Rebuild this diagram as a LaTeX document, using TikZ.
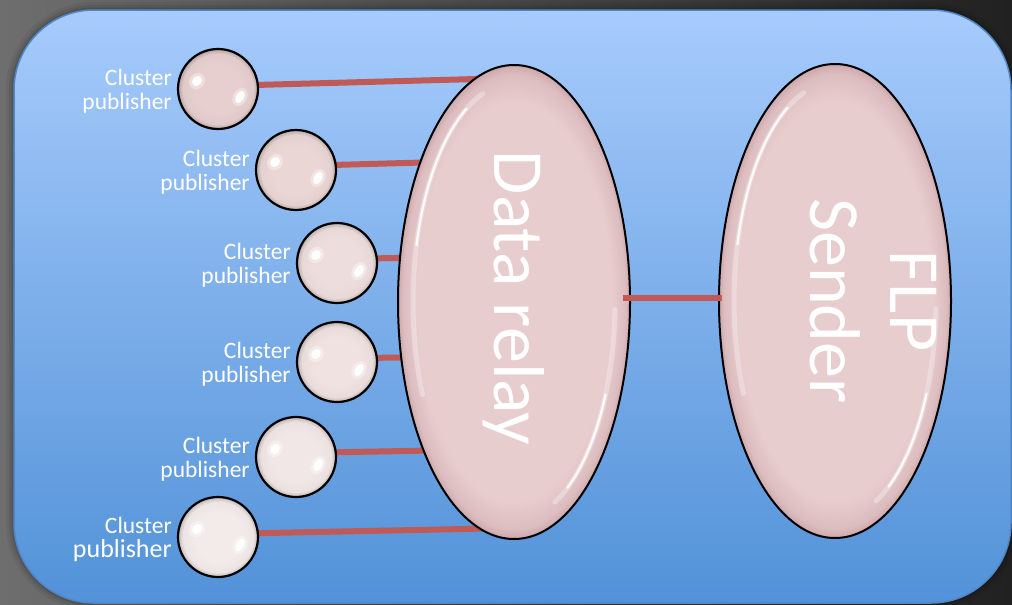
\documentclass[tikz,border=0pt]{standalone}
\usepackage{fontspec}
\setmainfont{Carlito}
\usetikzlibrary{shapes.geometric,calc}

\pgfdeclarelayer{panel}
\pgfdeclarelayer{wires}
\pgfsetlayers{panel,wires,main}

% palette
\definecolor{bgL}{RGB}{110,110,110}
\definecolor{bgR}{RGB}{33,33,33}
\definecolor{panelTop}{RGB}{167,203,252}
\definecolor{panelBot}{RGB}{82,146,216}
\definecolor{panelEdge}{RGB}{80,135,200}
\definecolor{wirecol}{RGB}{192,90,86}
\definecolor{podFill}{RGB}{232,205,207}
\definecolor{podRim}{RGB}{205,168,172}
\definecolor{pubA}{RGB}{231,207,207}
\definecolor{pubB}{RGB}{234,214,213}
\definecolor{pubC}{RGB}{237,222,221}
\definecolor{pubD}{RGB}{239,226,225}
\definecolor{pubE}{RGB}{241,231,230}
\definecolor{pubF}{RGB}{243,235,234}

% glossy bubble: flat body with a darker rim
\colorlet{bubA}{white}\colorlet{bubB}{gray}
\pgfdeclareradialshading[bubA,bubB]{bubble}{\pgfpointorigin}{%
  color(0bp)=(bubA); color(15bp)=(bubA); color(22bp)=(bubA!88!bubB);
  color(25bp)=(bubB); color(50bp)=(bubB)}
\pgfdeclareradialshading{pod}{\pgfpointorigin}{%
  color(0bp)=(podFill); color(21bp)=(podFill); color(24bp)=(podFill!55!podRim);
  color(25bp)=(podRim); color(50bp)=(podRim)}

\tikzset{
  pub/.style={circle, draw=black, line width=2.2pt, minimum size=80pt, inner sep=0pt,
    /utils/exec={\colorlet{bubA}{#1}\colorlet{bubB}{#1!78!black}}, shading=bubble},
  pod/.style={ellipse, draw=black, line width=2pt, minimum width=232pt,
    minimum height=474pt, inner sep=0pt, shading=pod},
  wire/.style={draw=wirecol, line width=6pt},
  lbl/.style={text=white, align=right, anchor=east, inner sep=0pt,
    font=\fontsize{23.5}{24}\selectfont},
  big/.style={text=white, rotate=-90, inner sep=0pt, align=center,
    font=\fontsize{72}{80}\selectfont},
  gloss/.style={white, line cap=round},
}

\begin{document}
\begin{tikzpicture}[x=1pt, y=-1pt]
\useasboundingbox (0,0) rectangle (1012,605);

% backdrop and panel
\begin{pgfonlayer}{panel}
  \fill[left color=bgL, right color=bgR] (0,0) rectangle (1012,605);
  \foreach \w/\o in {16/0.05, 10/0.07, 5/0.1}
    \draw[black, opacity=\o, line width=\w pt, rounded corners=80pt] (14,10) rectangle (1011,603);
  \draw[panelEdge, line width=1.5pt, rounded corners=80pt, top color=panelTop, bottom color=panelBot]
    (14,10) rectangle (1011,603);
\end{pgfonlayer}

% publishers
\node[pub=pubA] (p1) at (218,89) {};
\node[pub=pubB] (p2) at (296,170) {};
\node[pub=pubC] (p3) at (337,263) {};
\node[pub=pubD] (p4) at (337,362) {};
\node[pub=pubE] (p5) at (296,457) {};
\node[pub=pubF] (p6) at (218,537) {};

% relay and sender
\node[pod] (relay) at (514,302) {};
\node[pod] (flp) at (835,301) {};

% links from publishers into the relay
\begin{pgfonlayer}{wires}
  \draw[wire] ($(p1.center)+(0,-3)$) -- ($(relay.center)+(0,-224)$);
  \draw[wire] ($(p2.center)+(0,-4)$) -- ($(relay.center)+(0,-142)$);
  \draw[wire] ($(p3.center)+(0,-4)$) -- ($(relay.center)+(0,-46)$);
  \draw[wire] ($(p4.center)+(0,-4)$) -- ($(relay.center)+(0,55)$);
  \draw[wire] ($(p5.center)+(0,-4)$) -- ($(relay.center)+(0,147)$);
  \draw[wire] ($(p6.center)+(0,-3)$) -- ($(relay.center)+(0,226)$);
\end{pgfonlayer}

% relay to sender
\draw[wire] ($(relay.east)+(-8,-4)$) -- ($(flp.west)+(4,-3)$);

% glossy highlights on the ellipses
\foreach \n in {relay,flp}{
  \draw[gloss, opacity=0.3, line width=5pt]
    ($(\n.center)+({101*cos(-108)},{219*sin(-108)})$) arc[start angle=-108, end angle=-205, x radius=101, y radius=219];
  \draw[gloss, opacity=0.9, line width=2.2pt]
    ($(\n.center)+({101*cos(-118)},{219*sin(-118)})$) arc[start angle=-118, end angle=-165, x radius=101, y radius=219];
  \draw[gloss, opacity=0.3, line width=5pt]
    ($(\n.center)+({101*cos(2)},{219*sin(2)})$) arc[start angle=2, end angle=66, x radius=101, y radius=219];
  \draw[gloss, opacity=0.9, line width=2.2pt]
    ($(\n.center)+({101*cos(25)},{219*sin(25)})$) arc[start angle=25, end angle=58, x radius=101, y radius=219];
}

% specular spots on the bubbles
\foreach \p in {p1,p2,p3,p4,p5,p6}{
  \coordinate (s1) at ($(\p.center)+(-21,-8)$);
  \coordinate (s2) at ($(\p.center)+(22,8)$);
  \fill[white, opacity=0.35, rotate around={50:(s1)}] (s1) ellipse[x radius=8.5, y radius=7.5];
  \fill[white, opacity=0.95, rotate around={50:(s1)}] (s1) ellipse[x radius=5.5, y radius=4.5];
  \fill[white, opacity=0.35, rotate around={60:(s2)}] (s2) ellipse[x radius=9.5, y radius=7];
  \fill[white, opacity=0.95, rotate around={60:(s2)}] (s2) ellipse[x radius=6.5, y radius=4];
}

% labels
\node[lbl] (l1) at ($(p1.west)+(-5,2)$) {Cluster\\publisher};
\node[lbl] (l2) at ($(p2.west)+(-5,2)$) {Cluster\\publisher};
\node[lbl] (l3) at ($(p3.west)+(-5,2)$) {Cluster\\publisher};
\node[lbl] (l4) at ($(p4.west)+(-5,2)$) {Cluster\\publisher};
\node[lbl] (l5) at ($(p5.west)+(-5,2)$) {Cluster\\publisher};
\node[lbl] (l6) at ($(p6.west)+(-5,2)$) {Cluster\\{\fontsize{26}{27}\selectfont publisher}};

\node[big] (relaytext) at ($(relay.center)+(0,-4)$) {Data relay};
\node[big] (flptext) at ($(flp.center)+(38,0)$) {FLP\\Sender};
\end{tikzpicture}
\end{document}
